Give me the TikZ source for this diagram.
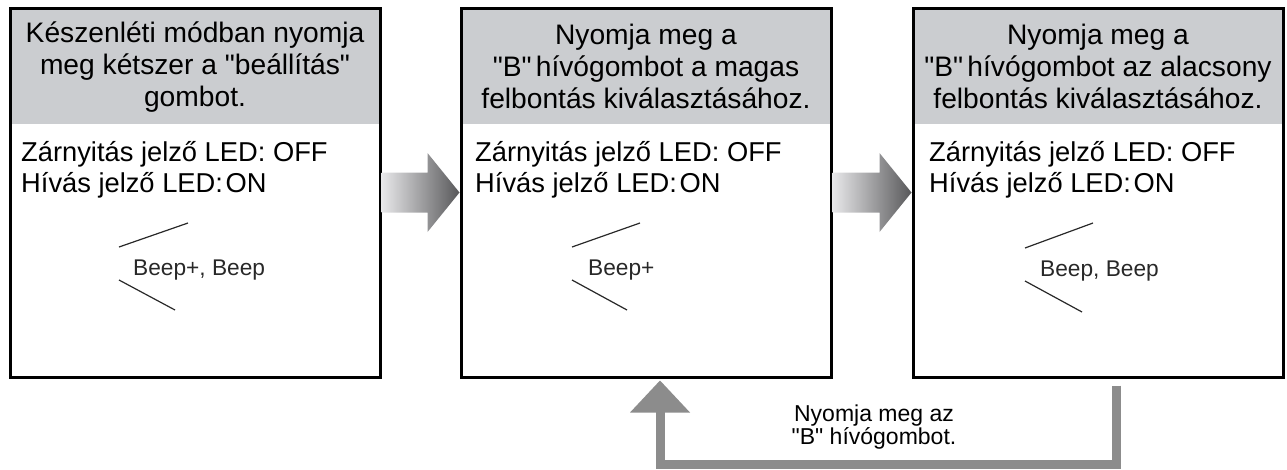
\documentclass[tikz,border=0pt]{standalone}
\usepackage{fontspec}
\setmainfont{Liberation Sans}[Ligatures=TeXOff]
\usetikzlibrary{calc,backgrounds}
\definecolor{hdr}{RGB}{203,205,208}
\definecolor{gradL}{RGB}{232,232,234}
\definecolor{gradR}{RGB}{88,88,90}
\definecolor{fbc}{RGB}{140,140,140}
\definecolor{beepc}{RGB}{40,40,40}
\begin{document}
\begin{tikzpicture}[x=1pt,y=-1pt,
 box/.style={draw=black,line width=3pt,minimum width=370pt,minimum height=369pt,inner sep=0pt,outer sep=0pt},
 hdrtext/.style={align=center,font=\fontsize{28.2}{32}\selectfont,inner sep=0pt},
 bodytext/.style={anchor=base west,font=\fontsize{27.3}{30}\selectfont,inner sep=0pt},
 beeptext/.style={anchor=base west,font=\fontsize{22.7}{24}\selectfont,text=beepc,inner sep=0pt},
 beepline/.style={draw=beepc,line width=1.2pt},
 grad/.style={left color=gradL,right color=gradR},
 fbline/.style={draw=fbc,line width=9pt,line join=miter},
 fbtext/.style={align=center,font=\fontsize{23}{22.5}\selectfont,inner sep=0pt},
 ]
\useasboundingbox (0,0) rectangle (1287,469);

% boxes
\node[box] (b1) at (195,192.5) {};
\node[box] (b2) at (646,192.5) {};
\node[box] (b3) at (1098,192.5) {};

\begin{scope}[on background layer]
 \fill[hdr] (b1.north west) rectangle ($(b1.north east)+(0,116)$);
 \fill[hdr] (b2.north west) rectangle ($(b2.north east)+(0,116)$);
 \fill[hdr] (b3.north west) rectangle ($(b3.north east)+(0,116)$);
\end{scope}

% headers
\node[hdrtext] (h1) at (195,67) {Készenléti módban nyomja\\meg kétszer a "beállítás"\\gombot.};
\node[hdrtext] (h2) at (646,66) {Nyomja meg a\\"B"\hspace{0.15em}hívógombot a magas\\felbontás kiválasztásához.};
\node[hdrtext] (h3) at (1098,66) {Nyomja meg a\\"B"\hspace{0.15em}hívógombot az alacsony\\felbontás kiválasztásához.};

% body
\node[bodytext] (z1) at (21,161) {Zárnyitás jelző LED: OFF};
\node[bodytext] (c1) at (21,192) {Hívás jelző LED:\hspace{0.1em}ON};
\node[bodytext] (z2) at (475,161) {Zárnyitás jelző LED: OFF};
\node[bodytext] (c2) at (475,192) {Hívás jelző LED:\hspace{0.1em}ON};
\node[bodytext] (z3) at (929,161) {Zárnyitás jelző LED: OFF};
\node[bodytext] (c3) at (929,192) {Hívás jelző LED:\hspace{0.1em}ON};

% beeps
\coordinate (p1) at (119,263.5);
\coordinate (p2) at (572,263.5);
\coordinate (p3) at (1025,264.5);
\draw[beepline] ($(p1)+(0,-16.5)$) -- ++(69,-24);
\draw[beepline] ($(p1)+(0,16.5)$) -- ++(56,30);
\node[beeptext] (e1) at ($(p1)+(14,11.5)$) {Beep+, Beep};
\draw[beepline] ($(p2)+(0,-16.5)$) -- ++(68,-24);
\draw[beepline] ($(p2)+(0,16.5)$) -- ++(55,30);
\node[beeptext] (e2) at ($(p2)+(16,11.5)$) {Beep+};
\draw[beepline] ($(p3)+(0,-16.5)$) -- ++(68,-25);
\draw[beepline] ($(p3)+(0,16.5)$) -- ++(57,31);
\node[beeptext] (e3) at ($(p3)+(15,11.5)$) {Beep, Beep};

% gradient arrows
\coordinate (a1s) at ([xshift=1.5pt]b1.east);
\coordinate (a1e) at ([xshift=-1.5pt]b2.west);
\shade[grad] ($(a1s)+(0,-20)$) -- ($(a1e)+(-32,-20)$) -- ($(a1e)+(-32,-39.5)$) -- (a1e) -- ($(a1e)+(-32,39.5)$) -- ($(a1e)+(-32,20)$) -- ($(a1s)+(0,20)$) -- cycle;
\coordinate (a2s) at ([xshift=1.5pt]b2.east);
\coordinate (a2e) at ([xshift=-1.5pt]b3.west);
\shade[grad] ($(a2s)+(0,-20)$) -- ($(a2e)+(-32,-20)$) -- ($(a2e)+(-32,-39.5)$) -- (a2e) -- ($(a2e)+(-32,39.5)$) -- ($(a2e)+(-32,20)$) -- ($(a2s)+(0,20)$) -- cycle;

% feedback arrow
\coordinate (fs) at ($(b3.south)+(18,8.5)$);
\coordinate (ft) at ($(b2.south)+(14,3.5)$);
\draw[fbline] (fs) |- ($(ft)+(0,83.5)$) -- ($(ft)+(0,30)$);
\fill[fbc] ($(ft)+(-30,32)$) -- (ft) -- ($(ft)+(30,32)$) -- cycle;
\node[fbtext] (fl) at (874,427) {Nyomja meg az\\ "B" hívógombot.};
\end{tikzpicture}
\end{document}
